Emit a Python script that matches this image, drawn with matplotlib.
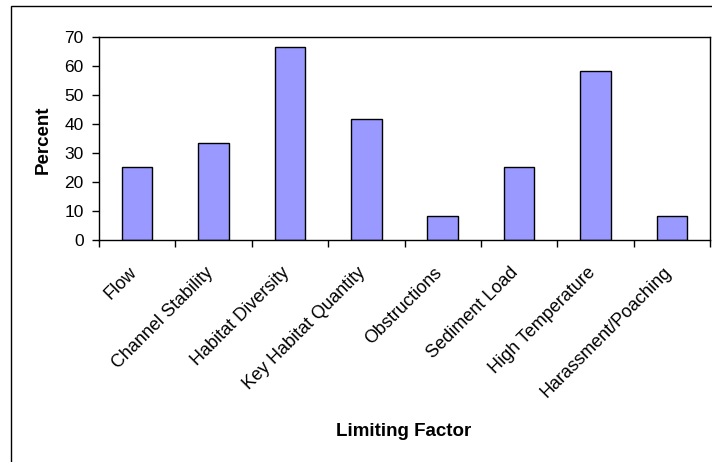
import matplotlib
matplotlib.use("Agg")
import matplotlib.pyplot as plt
from matplotlib.patches import Rectangle

categories = ["Flow", "Channel Stability", "Habitat Diversity", "Key Habitat Quantity",
              "Obstructions", "Sediment Load", "High Temperature", "Harassment/Poaching"]
percent = [25.0, 33.3, 66.7, 41.7, 8.3, 25.0, 58.3, 8.3]
yticks = [0, 10, 20, 30, 40, 50, 60, 70]

plt.rcParams['font.family'] = ['Liberation Sans', 'DejaVu Sans']

W, H = 712, 462
fig = plt.figure(figsize=(W / 100, H / 100), dpi=100)

# outer chart frame (extends past right and bottom edges)
fig.patches.append(Rectangle((11 / W, -0.1), 1.2, 1 - 6 / H + 0.1, transform=fig.transFigure,
                             fill=False, edgecolor='black', linewidth=1.0))

ax = fig.add_axes([99 / W, 1 - 240 / H, (710 - 99) / W, (240 - 37) / H])
x = list(range(len(categories)))
ax.bar(x, percent, width=0.4, color='#9999FF', edgecolor='black', linewidth=1.0)
ax.set_xlim(-0.5, len(categories) - 0.5)
ax.set_ylim(0, 70)
ax.set_yticks(yticks)
ax.set_yticklabels([str(v) for v in yticks], fontsize=12.5)
ax.tick_params(axis='y', direction='out', length=5, width=1, pad=6)

ax.set_xticks([i - 0.5 for i in range(len(categories) + 1)])
ax.set_xticklabels([])
ax.tick_params(axis='x', direction='out', length=5, width=1)

for i, name in zip(x, categories):
    ax.annotate(name, xy=(i, 0), xycoords=('data', 'axes fraction'),
                xytext=(-3, -30), textcoords='offset pixels',
                rotation=45, ha='right', va='center', rotation_mode='anchor',
                fontsize=13)

for s in ax.spines.values():
    s.set_linewidth(1.0)
    s.set_color('black')

fig.text(43 / W, 1 - 140 / H, "Percent", fontsize=13.5, fontweight='bold',
         ha='center', va='center', rotation=90)
fig.text(404 / W, 1 - 431 / H, "Limiting Factor", fontsize=13.5, fontweight='bold',
         ha='center', va='center')

fig.savefig("out.png", dpi=100)
